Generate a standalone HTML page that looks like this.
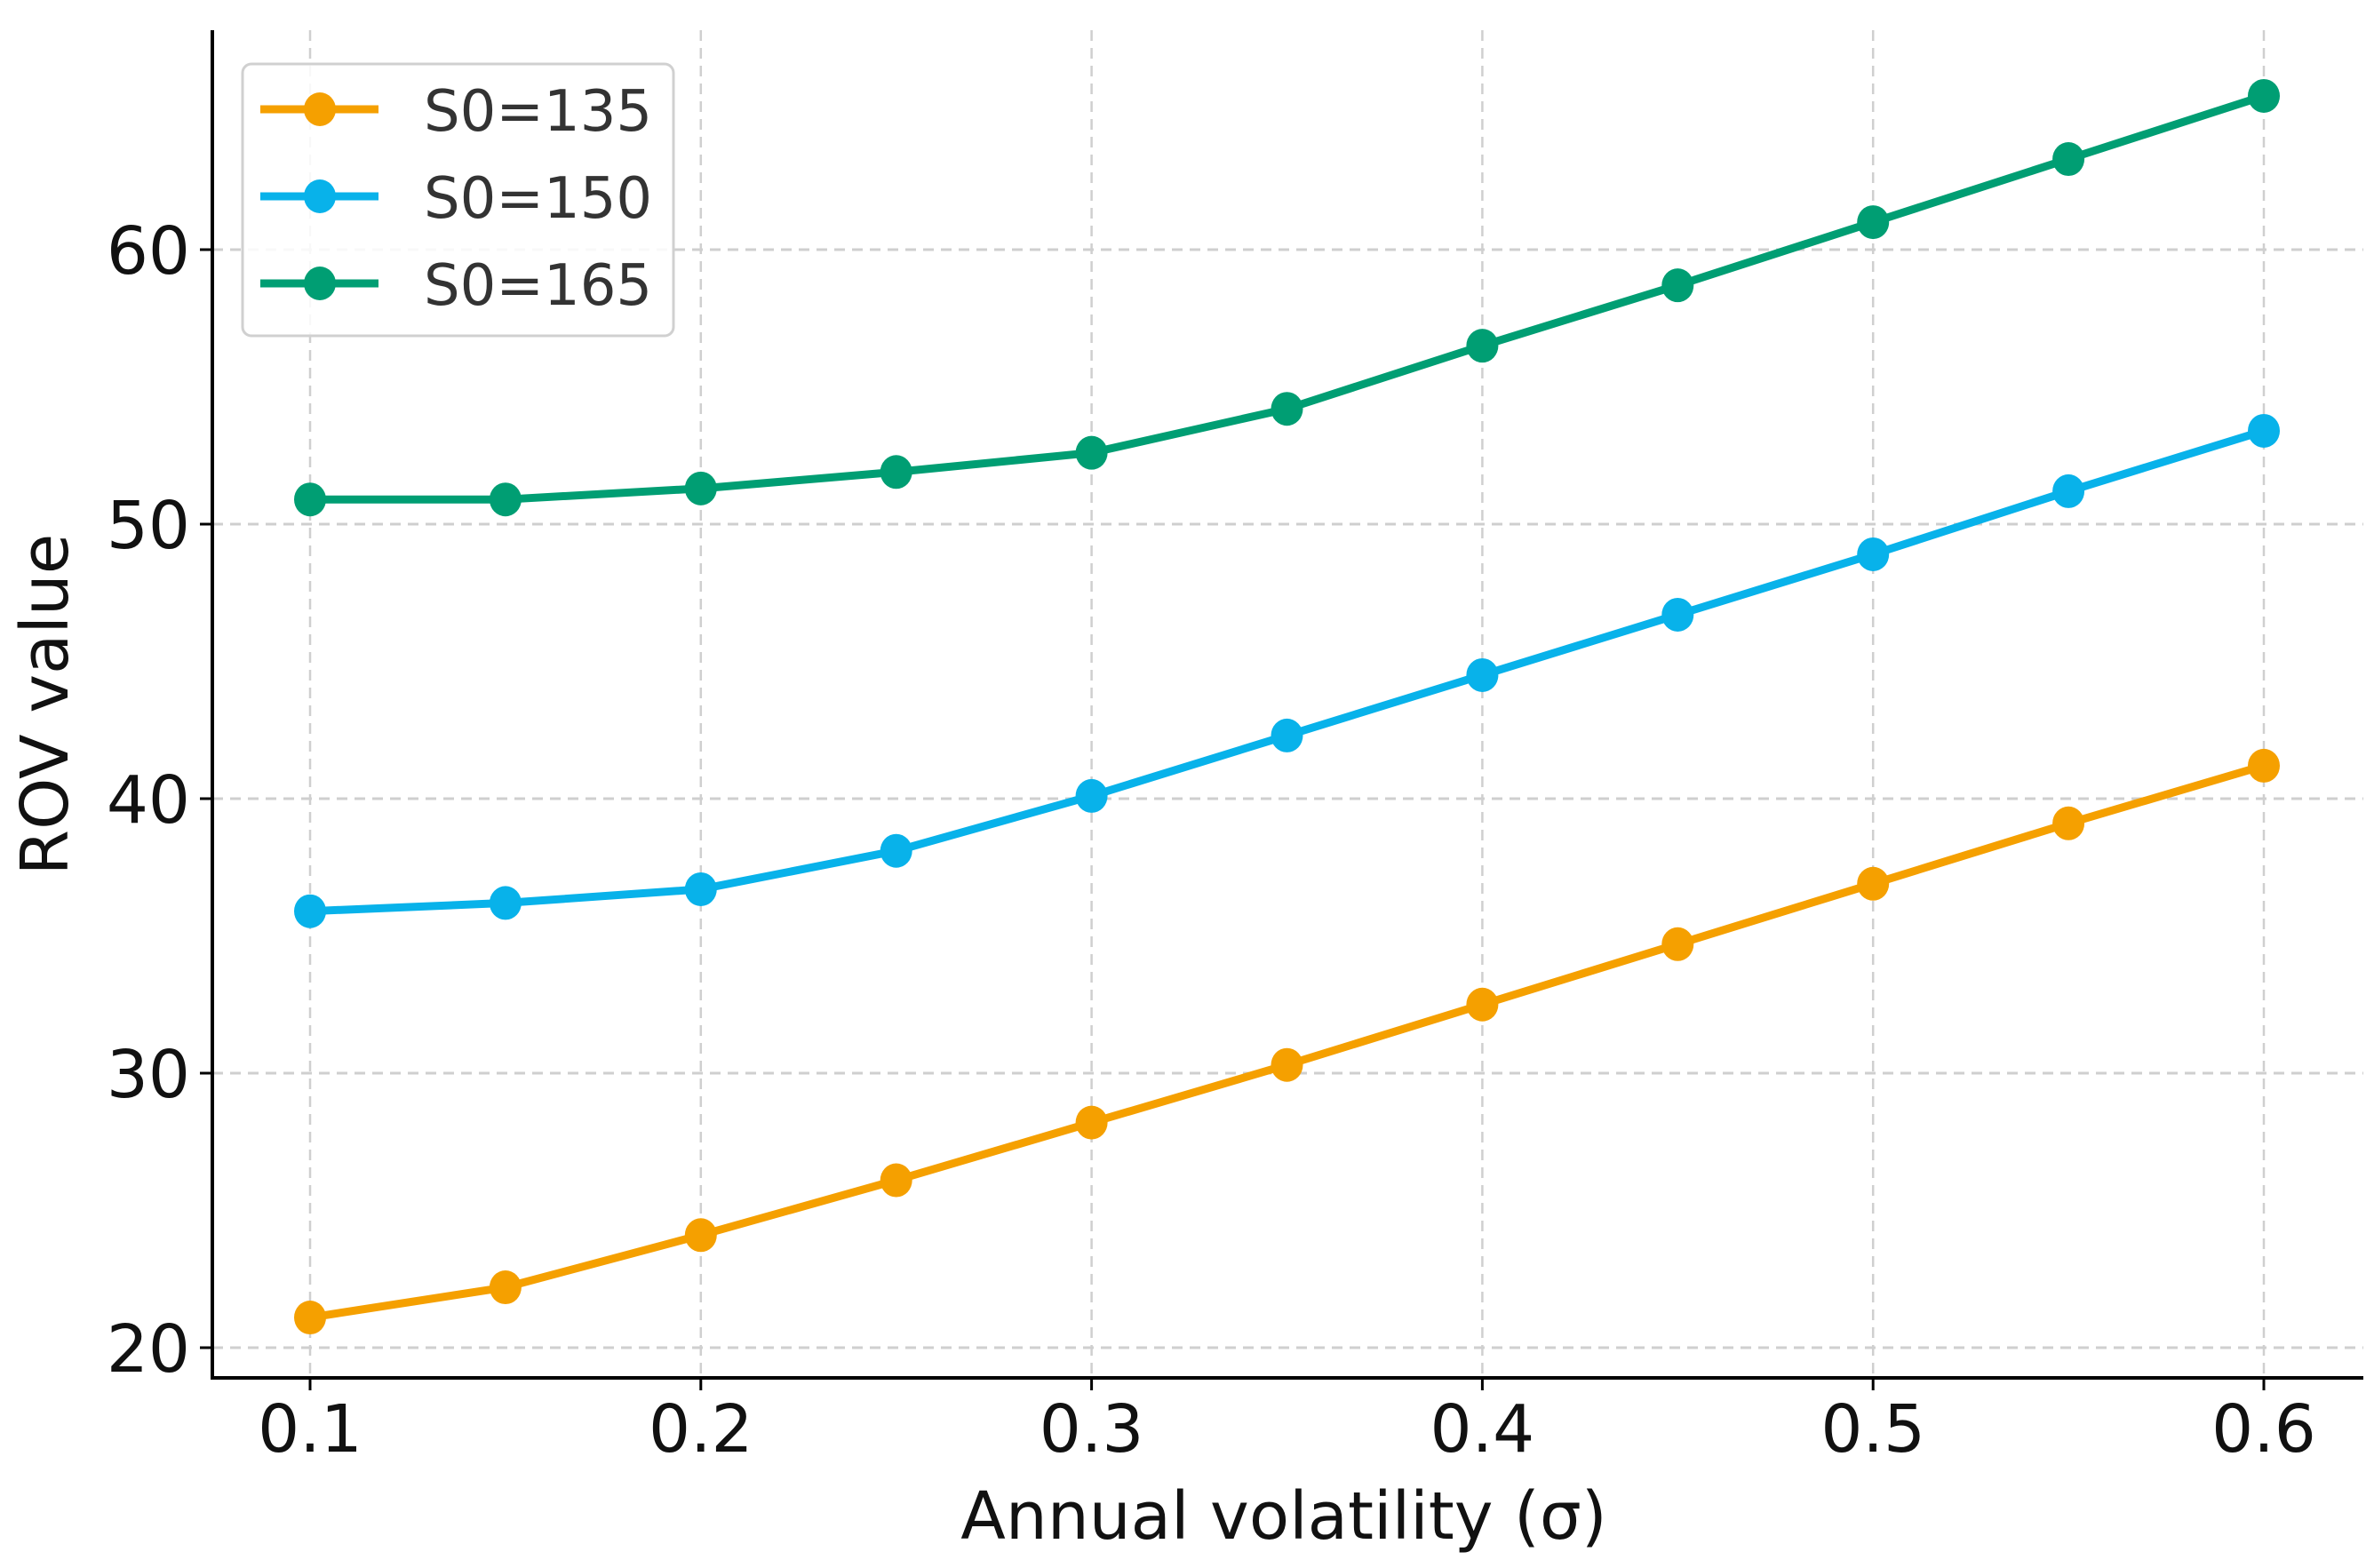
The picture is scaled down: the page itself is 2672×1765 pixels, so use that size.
<!DOCTYPE html>
<html><head><meta charset="utf-8"><style>
html,body{margin:0;padding:0;background:#fff}
svg{display:block;font-family:"DejaVu Sans","Liberation Sans",sans-serif}
</style></head><body>
<svg id="chart" width="2672" height="1765" viewBox="0 0 2672 1765">
<g id="grid"></g>
<g id="series"></g>
<g id="axes"></g>
<text x="1445" y="1732" font-size="74" text-anchor="middle" fill="#111">Annual volatility (σ)</text>
<text x="0" y="0" font-size="74" text-anchor="middle" fill="#111" transform="translate(76,793) rotate(-90)">ROV value</text>
<g>
<rect x="273" y="72" width="485" height="306" rx="10" fill="#fff" fill-opacity="0.85" stroke="#d0d0d0" stroke-width="3"/>
<g id="legend-entries"></g>
</g>
</svg>
<script>
const xValues = [0.1,0.15,0.2,0.25,0.3,0.35,0.4,0.45,0.5,0.55,0.6];
const s135 = [21.1,22.2,24.1,26.1,28.2,30.3,32.5,34.7,36.9,39.1,41.2];
const s150 = [35.9,36.2,36.7,38.1,40.1,42.3,44.5,46.7,48.9,51.2,53.4];
const s165 = [50.9,50.9,51.3,51.9,52.6,54.2,56.5,58.7,61.0,63.3,65.6];
const seriesNames = ["S0=135","S0=150","S0=165"];
const xTicks = [0.1,0.2,0.3,0.4,0.5,0.6];
const xTickLabels = ["0.1","0.2","0.3","0.4","0.5","0.6"];
const yTicks = [20,30,40,50,60];
const yTickLabels = ["20","30","40","50","60"];

const NS="http://www.w3.org/2000/svg";
function X(v){return 349+(v-0.1)*(2548-349)/0.5;}
function Y(v){return 1517-(v-20)*(1517-281)/40;}
function mk(tag,attrs,parent){const e=document.createElementNS(NS,tag);for(const k in attrs)e.setAttribute(k,attrs[k]);parent.appendChild(e);return e;}
const grid=document.getElementById('grid'),axes=document.getElementById('axes'),ser=document.getElementById('series'),leg=document.getElementById('legend-entries');
const L=239,B=1551,R=2660,T=34;
xTicks.forEach((t,i)=>{
 const g=mk('line',{x1:X(t),x2:X(t),y1:T,y2:B,stroke:'#cfcfcf','stroke-width':2.5,'stroke-dasharray':'12 8'},grid);
 
 
 const tk=mk('line',{x1:X(t),x2:X(t),y1:B,y2:B+14,stroke:'#000','stroke-width':3},axes);
 
 
 const tx=mk('text',{x:X(t),y:1634,'font-size':74,'text-anchor':'middle',fill:'#111'},axes);
 tx.textContent=xTickLabels[i];
 
 
});
yTicks.forEach((t,i)=>{
 const g=mk('line',{x1:L,x2:R,y1:Y(t),y2:Y(t),stroke:'#cfcfcf','stroke-width':3,'stroke-dasharray':'12 8'},grid);
 
 
 const tk=mk('line',{x1:L-14,x2:L,y1:Y(t),y2:Y(t),stroke:'#000','stroke-width':3},axes);
 
 
 const tx=mk('text',{x:214,y:Y(t)+27,'font-size':74,'text-anchor':'end',fill:'#111'},axes);
 tx.textContent=yTickLabels[i];
 
 
});
const sp1=mk('line',{x1:L,x2:L,y1:T,y2:B+2,stroke:'#000','stroke-width':4},axes);


const sp2=mk('line',{x1:L-2,x2:R,y1:B,y2:B,stroke:'#000','stroke-width':4},axes);



const colors=["#f5a000","#08b2ea","#009e73"];
[s135,s150,s165].forEach((vals,si)=>{
 const pts=vals.map((v,i)=>X(xValues[i])+','+Y(v)).join(' ');
 const pl=mk('polyline',{points:pts,fill:'none',stroke:colors[si],'stroke-width':9,'stroke-linejoin':'round'},ser);
 
 
 vals.forEach((v,i)=>{
  const c=mk('ellipse',{cx:X(xValues[i]),cy:Y(v),rx:18,ry:19,fill:colors[si]},ser);
  
  
 });
 const ly=123+si*98;
 const ll=mk('line',{x1:293,x2:426,y1:ly,y2:ly,stroke:colors[si],'stroke-width':9},leg);
 
 
 const lm=mk('ellipse',{cx:360,cy:ly,rx:18,ry:19,fill:colors[si]},leg);
 
 
 const lt=mk('text',{x:477,y:ly+24,'font-size':64,fill:'#333'},leg);
 lt.textContent=seriesNames[si];
 
 
});
</script>
</body></html>
